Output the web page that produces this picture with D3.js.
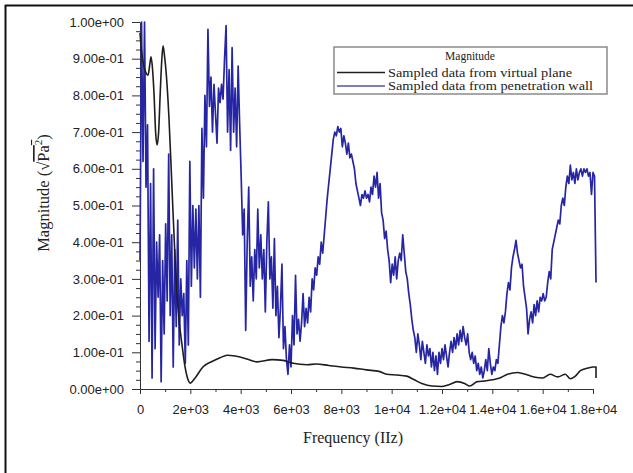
<!DOCTYPE html>
<html>
<head>
<meta charset="utf-8">
<script src="https://cdn.jsdelivr.net/npm/d3@7/dist/d3.min.js"></script>
<style>
  html, body { margin: 0; padding: 0; background: #fff; }
  svg { display: block; }
</style>
</head>
<body>
<script>
// ---- data -------------------------------------------------------------
// Penetration-wall spectrum, sampled every 60 Hz from 0 Hz
const wallStepHz = 60;
const wallMag = [
  0.35, 1.00, 0.62, 1.00, 0.55, 0.72, 0.13, 0.56, 0.03, 0.60,
  0.11, 0.40, 0.25, 0.42, 0.02, 0.35, 0.15, 0.45, 0.24, 0.64,
  0.20, 0.42, 0.06, 0.38, 0.17, 0.46, 0.12, 0.30, 0.20, 0.26,
  0.07, 0.35, 0.12, 0.62, 0.28, 0.50, 0.33, 0.49, 0.30, 0.50,
  0.25, 0.71, 0.52, 0.80, 0.66, 0.98, 0.77, 0.85, 0.70, 0.83,
  0.75, 0.67, 0.82, 0.78, 0.83, 0.79, 0.90, 0.99, 0.70, 0.87,
  0.65, 0.93, 0.70, 0.82, 0.66, 0.88, 0.72, 0.58, 0.42, 0.49,
  0.16, 0.40, 0.55, 0.28, 0.36, 0.24, 0.38, 0.30, 0.49, 0.33,
  0.42, 0.30, 0.38, 0.21, 0.40, 0.51, 0.30, 0.36, 0.22, 0.41,
  0.20, 0.28, 0.14, 0.22, 0.34, 0.11, 0.17, 0.08, 0.04, 0.12,
  0.06, 0.20, 0.12, 0.31, 0.15, 0.19, 0.13, 0.18, 0.26, 0.17,
  0.22, 0.18, 0.25, 0.21, 0.30, 0.27, 0.33, 0.31, 0.36, 0.34,
  0.40, 0.37, 0.42, 0.47, 0.52, 0.56, 0.60, 0.64, 0.68, 0.70,
  0.69, 0.715, 0.70, 0.71, 0.66, 0.69, 0.67, 0.64, 0.67, 0.63,
  0.64, 0.62, 0.60, 0.56, 0.54, 0.52, 0.50, 0.53, 0.52, 0.54,
  0.52, 0.53, 0.51, 0.55, 0.53, 0.58, 0.55, 0.59, 0.52, 0.56,
  0.48, 0.46, 0.41, 0.43, 0.38, 0.35, 0.29, 0.34, 0.31, 0.36,
  0.30, 0.35, 0.37, 0.35, 0.42, 0.37, 0.32, 0.30, 0.26, 0.23,
  0.19, 0.16, 0.14, 0.10, 0.15, 0.12, 0.08, 0.13, 0.10, 0.07,
  0.12, 0.09, 0.11, 0.06, 0.10, 0.05, 0.09, 0.04, 0.10, 0.07,
  0.11, 0.08, 0.12, 0.09, 0.06, 0.10, 0.13, 0.10, 0.14, 0.11,
  0.15, 0.12, 0.16, 0.13, 0.17, 0.14, 0.12, 0.15, 0.10, 0.08,
  0.10, 0.07, 0.09, 0.05, 0.07, 0.04, 0.06, 0.03, 0.05, 0.08,
  0.05, 0.11, 0.07, 0.04, 0.06, 0.05, 0.08, 0.07, 0.12, 0.17,
  0.20, 0.18, 0.21, 0.26, 0.29, 0.27, 0.33, 0.36, 0.38, 0.405,
  0.37, 0.35, 0.33, 0.34, 0.28, 0.25, 0.22, 0.15, 0.19, 0.21,
  0.18, 0.23, 0.20, 0.24, 0.21, 0.25, 0.24, 0.26, 0.24, 0.25,
  0.29, 0.32, 0.30, 0.38, 0.40, 0.42, 0.44, 0.46, 0.45, 0.50,
  0.52, 0.50, 0.55, 0.58, 0.56, 0.61, 0.57, 0.59, 0.56, 0.60,
  0.57, 0.59, 0.60, 0.58, 0.60, 0.59, 0.60, 0.58, 0.59, 0.53,
  0.59, 0.58, 0.29
];

// Virtual-plane spectrum (frequency in Hz, magnitude)
const planeFreq = [
  0, 60, 150, 250, 320, 400, 440, 500, 560, 620,
  680, 740, 800, 860, 915, 970, 1030, 1150, 1270, 1390,
  1510, 1670, 1790, 1910, 1990, 2190, 2500, 2860, 3180, 3460,
  3780, 4250, 4650, 5250, 5690, 6080, 6640, 7000, 7500, 8000,
  8500, 9000, 9500, 9800, 10200, 10600, 10900, 11200, 11600, 12000,
  12300, 12600, 12900, 13100, 13400, 13700, 14000, 14300, 14600, 15000,
  15400, 15700, 16000, 16300, 16600, 16900, 17100, 17300, 17500, 17800,
  18000, 18120, 18120
];
const planeMag = [
  0.97, 0.92, 0.88, 0.86, 0.855, 0.89, 0.905, 0.87, 0.80, 0.70,
  0.665, 0.70, 0.80, 0.89, 0.935, 0.91, 0.87, 0.74, 0.55, 0.36,
  0.22, 0.12, 0.06, 0.025, 0.016, 0.03, 0.06, 0.075, 0.085, 0.092,
  0.09, 0.082, 0.074, 0.08, 0.078, 0.07, 0.066, 0.068, 0.064, 0.06,
  0.057, 0.052, 0.048, 0.04, 0.038, 0.035, 0.025, 0.015, 0.008, 0.007,
  0.012, 0.02, 0.015, 0.008, 0.02, 0.022, 0.025, 0.03, 0.04, 0.045,
  0.038, 0.032, 0.03, 0.04, 0.033, 0.04, 0.028, 0.035, 0.05, 0.057,
  0.06, 0.06, 0.03
];

// Axis ticks and labels
const xTicks = [0, 2000, 4000, 6000, 8000, 10000, 12000, 14000, 16000, 18000];
const xTickLabels = ["0", "2e+03", "4e+03", "6e+03", "8e+03", "1e+04", "1.2e+04", "1.4e+04", "1.6e+04", "1.8e+04"];
const xMinorTicks = [1000, 3000, 5000, 7000, 9000, 11000, 13000, 15000, 17000];
const yTicks = [0, 0.1, 0.2, 0.3, 0.4, 0.5, 0.6, 0.7, 0.8, 0.9, 1.0];
const yTickLabels = ["0.00e+00", "1.00e-01", "2.00e-01", "3.00e-01", "4.00e-01", "5.00e-01",
                     "6.00e-01", "7.00e-01", "8.00e-01", "9.00e-01", "1.00e+00"];
const yMinorTicks = d3.range(0, 40).map(i => i * 0.025).filter(v => Math.abs(v * 10 - Math.round(v * 10)) > 1e-6);

const legendTitle = "Magnitude";
const seriesNames = ["Sampled data from virtual plane", "Sampled data from penetration wall"];
const seriesColors = ["#1e1e1e", "#2626a4"];
const legendColors = ["#1e1e1e", "#5252b4"];

// ---- drawing ----------------------------------------------------------
const W = 633, H = 473;
const svg = d3.select("body").append("svg").attr("width", W).attr("height", H);

svg.append("rect").attr("width", W).attr("height", H).attr("fill", "#fff");

// outer frame (top and left edges)
svg.append("line").attr("x1", 5).attr("x2", W).attr("y1", 5.5).attr("y2", 5.5)
  .attr("stroke", "#111").attr("stroke-width", 2);
svg.append("line").attr("x1", 5.5).attr("x2", 5.5).attr("y1", 5).attr("y2", H)
  .attr("stroke", "#111").attr("stroke-width", 2);

const x = d3.scaleLinear().domain([0, 18000]).range([140, 593]);
const y = d3.scaleLinear().domain([0, 1]).range([389, 22]);

const tickFont = "'Liberation Sans', Arial, sans-serif";
const serif = "'Liberation Serif', 'Times New Roman', serif";

// y axis
const gy = svg.append("g").attr("transform", "translate(140,0)");
gy.call(d3.axisLeft(y).tickValues(yTicks).tickFormat((d, i) => yTickLabels[i])
  .tickSize(8).tickSizeOuter(0).tickPadding(8));
gy.append("g").call(d3.axisLeft(y).tickValues(yMinorTicks).tickFormat("").tickSize(4).tickSizeOuter(0))
  .select(".domain").remove();

// x axis
const gx = svg.append("g").attr("transform", "translate(0,389)");
gx.call(d3.axisBottom(x).tickValues(xTicks).tickFormat((d, i) => xTickLabels[i])
  .tickSize(5).tickSizeOuter(0).tickPadding(11));
gx.append("g").call(d3.axisBottom(x).tickValues(xMinorTicks).tickFormat("").tickSize(3).tickSizeOuter(0))
  .select(".domain").remove();

svg.selectAll(".tick line, .domain").attr("stroke", "#333").attr("stroke-width", 1);
svg.selectAll(".tick text").attr("font-family", tickFont).attr("font-size", 13).attr("fill", "#222");

// series
const line = d3.line().x(d => x(d[0])).y(d => y(d[1]));
const wallData = wallMag.map((v, i) => [i * wallStepHz, v]);
const planeData = planeFreq.map((f, i) => [f, planeMag[i]]);

svg.append("path").datum(wallData).attr("d", line)
  .attr("fill", "none").attr("stroke", seriesColors[1]).attr("stroke-width", 1.7)
  .attr("stroke-linejoin", "round");
svg.append("path").datum(planeData).attr("d", line.curve(d3.curveMonotoneX))
  .attr("fill", "none").attr("stroke", seriesColors[0]).attr("stroke-width", 1.6)
  .attr("stroke-linejoin", "round");

// axis titles
svg.append("text").attr("x", 353).attr("y", 443).attr("text-anchor", "middle")
  .attr("font-family", serif).attr("font-size", 16).attr("fill", "#222")
  .text("Frequency (IIz)");

const yt = svg.append("text").attr("transform", "translate(49,193) rotate(-90)")
  .attr("text-anchor", "middle").attr("font-family", serif).attr("font-size", 16.5).attr("fill", "#222");
yt.append("tspan").text("Magnitude (");
yt.append("tspan").text("\u221A");
yt.append("tspan").style("text-decoration", "overline").text("Pa");
yt.append("tspan").attr("font-size", 11).attr("dy", -7).style("text-decoration", "overline").text("2");
yt.append("tspan").attr("dy", 7).text(")");

// legend
const legendTextLen = [184, 205];
const lg = svg.append("g");
lg.append("rect").attr("x", 334).attr("y", 47).attr("width", 273).attr("height", 47)
  .attr("fill", "#fff").attr("stroke", "#8a8a8a").attr("stroke-width", 1.5);
lg.append("text").attr("x", 470).attr("y", 59.5).attr("text-anchor", "middle")
  .attr("font-family", serif).attr("font-size", 11.5).attr("fill", "#222").text(legendTitle);
seriesNames.forEach((name, i) => {
  const cy = 72.5 + i * 13.5;
  lg.append("line").attr("x1", 337).attr("x2", 385).attr("y1", cy).attr("y2", cy)
    .attr("stroke", legendColors[i]).attr("stroke-width", 1.6);
  lg.append("text").attr("x", 388).attr("y", cy + 4)
    .attr("textLength", legendTextLen[i]).attr("lengthAdjust", "spacingAndGlyphs")
    .attr("font-family", serif).attr("font-size", 11.5).attr("fill", "#222").text(name);
});
</script>
</body>
</html>
